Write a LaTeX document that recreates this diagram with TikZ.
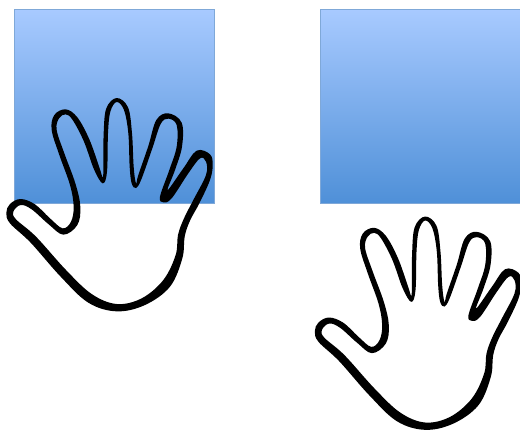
\documentclass[tikz,border=0pt]{standalone}
\definecolor{sqtop}{HTML}{A8CAFF}
\definecolor{sqbot}{HTML}{4F90D8}
\definecolor{sqedge}{HTML}{7FA8D8}
\tikzset{
  bluesquare/.style={draw=sqedge,line width=0.5pt,top color=sqtop,bottom color=sqbot},
  sqshadow/.style={fill=black!22},
  hand/.pic={
    \fill[black,even odd rule]
      plot[smooth cycle,tension=0.6] coordinates {
        (19,368)(30,342)(62,327)(105,343)(150,385)(188,415)(213,395)(221,350)(210,285)(178,195)
        (155,120)(163,75)(197,58)(232,82)(268,148)(298,232)(308,262)(310,240)(311,130)(319,55)
        (350,24)(384,52)(396,130)(401,230)(408,280)(415,255)(445,168)(469,90)(505,70)(545,98)
        (546,170)(525,240)(503,300)(550,235)(590,182)(630,193)(638,225)(630,270)(598,340)(570,392)
        (554,440)(547,505)(510,590)(435,645)(350,664)(265,638)(182,560)(92,458)(30,400)}
      plot[smooth cycle,tension=0.6] coordinates {
        (40,365)(62,345)(95,358)(145,402)(190,434)(232,405)(241,350)(226,280)(193,190)
        (170,120)(177,85)(197,73)(218,90)(252,155)(282,238)(308,280)(321,245)(324,130)(331,65)
        (350,36)(372,60)(385,130)(389,230)(395,280)(408,294)(424,268)(457,175)(482,102)(505,86)(530,105)
        (530,170)(508,240)(480,320)(490,337)(515,325)(565,250)(600,205)(618,215)(618,255)(580,330)(552,385)
        (534,435)(527,495)(490,570)(425,625)(350,642)(275,612)(198,540)(108,440)(48,388)};
  }
}
\begin{document}
\begin{tikzpicture}[x=1pt,y=-1pt]
\useasboundingbox (0,0) rectangle (520,432);
\fill[sqshadow] (14.5,10) rectangle (214.5,204.2);
\fill[sqshadow] (320.5,10) rectangle (520.5,204.2);
\path[bluesquare] (14,9) rectangle (214,203);
\path[bluesquare] (320,9) rectangle (520,203);
\begin{scope}[shift={(0,90)},x=1pt/3,y=-1pt/3]
\pic at (0,0) {hand};
\end{scope}
\begin{scope}[shift={(308.5,208.5)},x=1pt/3,y=-1pt/3]
\pic at (0,0) {hand};
\end{scope}
\end{tikzpicture}
\end{document}
